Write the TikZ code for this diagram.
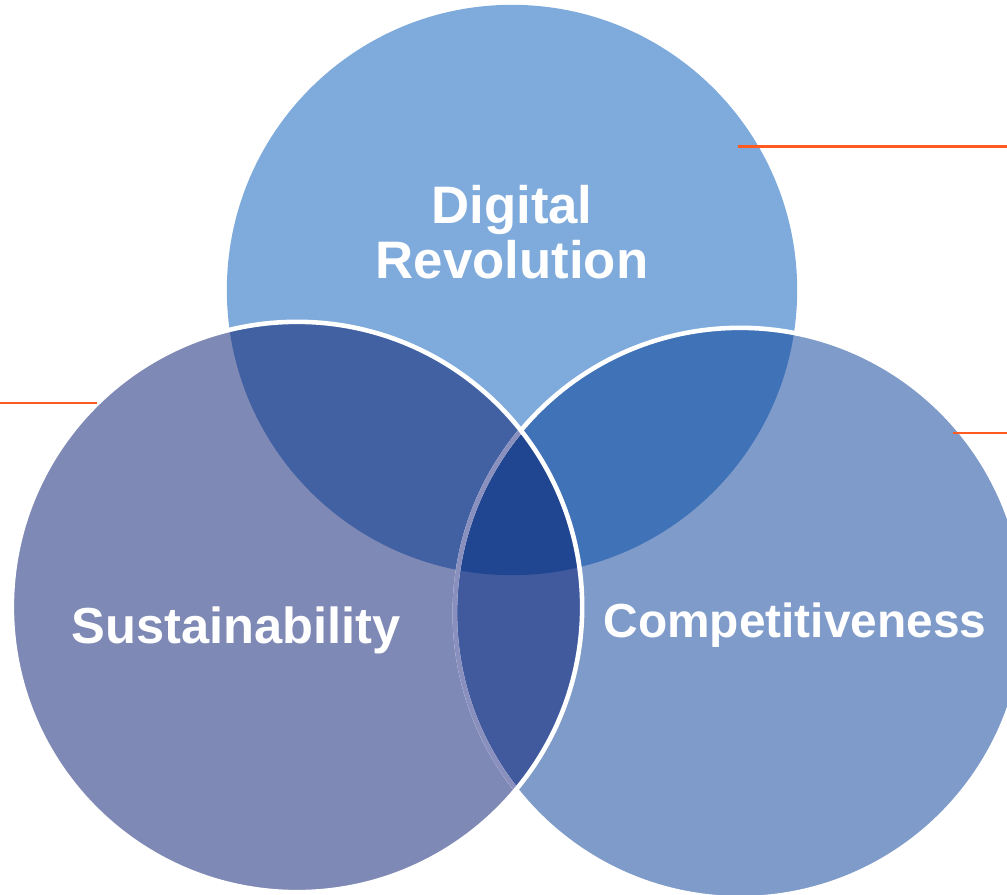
\documentclass[tikz,border=0pt]{standalone}
\usepackage{fontspec}
\setmainfont{Liberation Sans}
\definecolor{topfill}{HTML}{7FAADC}
\definecolor{leftfill}{HTML}{7F89B5}
\definecolor{rightfill}{HTML}{7F9BC9}
\definecolor{tlfill}{HTML}{4161A3}
\definecolor{trfill}{HTML}{4072B8}
\definecolor{lrfill}{HTML}{415A9E}
\definecolor{allfill}{HTML}{204691}
\definecolor{leadcol}{HTML}{FF5A1F}
\definecolor{faintedge}{HTML}{8A90BE}
\tikzset{
  rim/.style={draw=white, line width=1.3pt},
  leader/.style={draw=leadcol, line width=0.85pt},
  title/.style={text=white, font=\bfseries, align=center, inner sep=0pt}
}

\begin{document}
\begin{tikzpicture}[x=0.01cm, y=-0.01cm]
\useasboundingbox (0,0) rectangle (1007,895);
\clip (0,0) rectangle (1007,895);
\coordinate (T) at (512,290);
\coordinate (L) at (297,607);
\coordinate (R) at (740,613);
\def\rad{2.85cm}
% plain circles
\fill[topfill] (T) circle (\rad);
\fill[rightfill] (R) circle (\rad);
\fill[leftfill] (L) circle (\rad);
% pairwise overlaps
\begin{scope}
\clip (T) circle (\rad);
\fill[tlfill] (L) circle (\rad);
\fill[trfill] (R) circle (\rad);
\end{scope}
\begin{scope}
\clip (L) circle (\rad);
\fill[lrfill] (R) circle (\rad);
\end{scope}
% middle
\begin{scope}
\clip (T) circle (\rad);
\clip (L) circle (\rad);
\fill[allfill] (R) circle (\rad);
\end{scope}
% white rims
\draw[rim] (R) circle (\rad);
\begin{scope}
\clip (L) circle (\rad);
\draw[rim, draw=faintedge] (R) circle (\rad);
\end{scope}
\draw[rim] (L) circle (\rad);
% labels
\node[title, font=\fontsize{15}{15.6}\selectfont\bfseries] (digital) at (512,232) {Digital\\Revolution};
\node[title, font=\fontsize{14.4}{16}\selectfont\bfseries, anchor=base] (sustain) at (236,643) {Sustainability};
\node[title, font=\fontsize{13.6}{16}\selectfont\bfseries, anchor=base] (compet) at (795,637) {Competitiveness};
% orange leaders
\coordinate (dr-a) at (738,147);
\coordinate (dr-b) at (1007,147);
\coordinate (su-a) at (0,403);
\coordinate (su-b) at (97,403);
\coordinate (co-a) at (953,433);
\coordinate (co-b) at (1007,433);
\draw[leader] (dr-a) -- (dr-b);
\draw[leader] (su-a) -- (su-b);
\draw[leader] (co-a) -- (co-b);
\end{tikzpicture}
\end{document}
